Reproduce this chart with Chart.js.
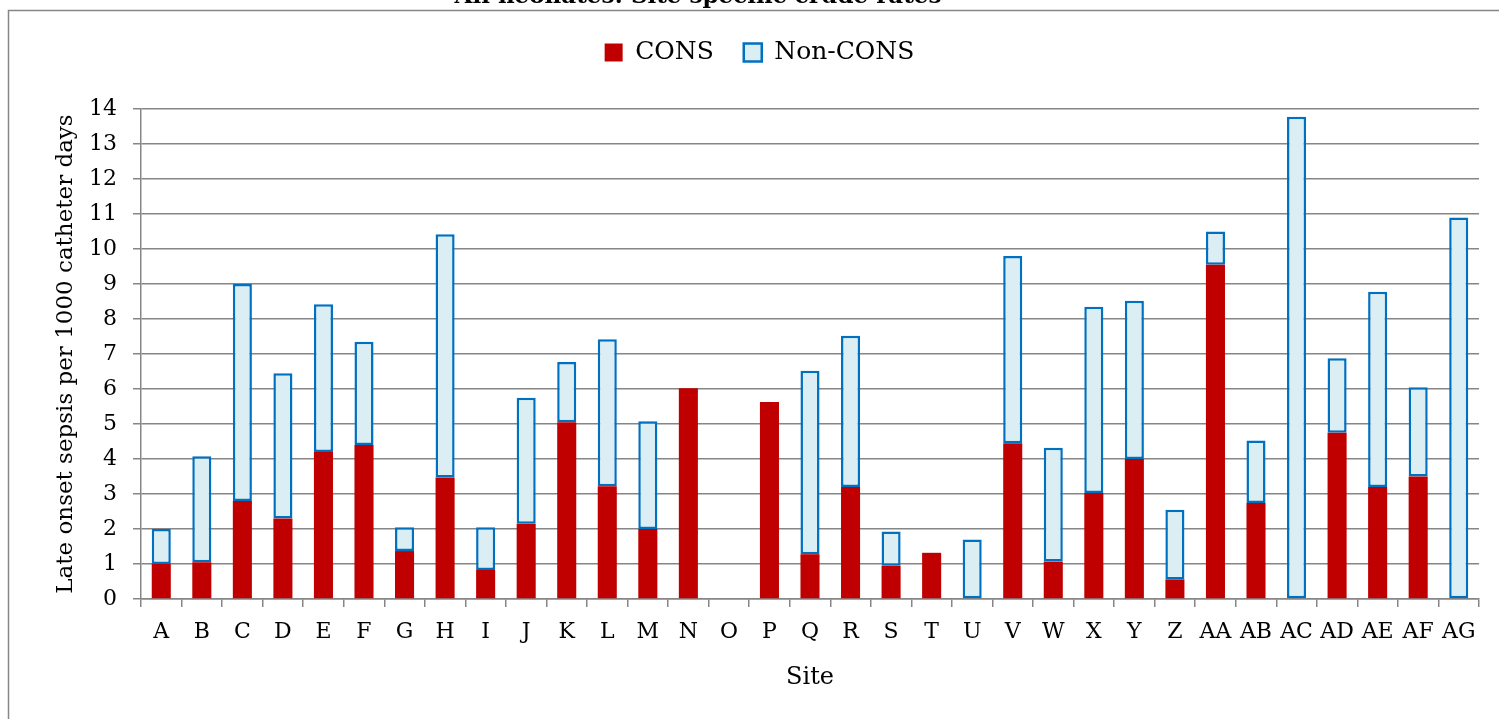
<!DOCTYPE html>
<html>
<head>
<meta charset="utf-8">
<script src="https://cdn.jsdelivr.net/npm/chart.js@4/dist/chart.umd.min.js"></script>
<style>
  html, body { margin: 0; padding: 0; background: #ffffff; }
  #wrap { width: 1499px; height: 719px; }
</style>
</head>
<body>
<div id="wrap"><canvas id="c" width="1499" height="719"></canvas></div>
<script>
const chartTitle = 'All neonates: Site specific crude rates';
const sites = ['A','B','C','D','E','F','G','H','I','J','K','L','M','N','O','P','Q','R','S','T','U','V','W','X','Y','Z','AA','AB','AC','AD','AE','AF','AG'];
const consValues    = [1.0, 1.05, 2.8, 2.3, 4.2, 4.4, 1.37, 3.47, 0.83, 2.15, 5.05, 3.22, 2.0, 6.02, 0, 5.63, 1.28, 3.2, 0.95, 1.32, 0, 4.45, 1.07, 3.03, 4.0, 0.56, 9.55, 2.74, 0, 4.75, 3.2, 3.5, 0];
const nonConsValues = [1.0, 3.03, 6.2, 4.15, 4.22, 2.95, 0.68, 6.95, 1.22, 3.6, 1.72, 4.2, 3.08, 0, 0, 0, 5.24, 4.32, 0.98, 0, 1.7, 5.35, 3.25, 5.32, 4.52, 1.99, 0.95, 1.79, 13.78, 2.13, 5.58, 2.55, 10.9];
const yTicks = [0,1,2,3,4,5,6,7,8,9,10,11,12,13,14];
const seriesNames = ['CONS', 'Non-CONS'];
const yTitle = 'Late onset sepsis per 1000 catheter days';
const xTitle = 'Site';

Chart.defaults.font.family = "'DejaVu Serif', serif";
Chart.defaults.color = '#000000';

const legendSpacer = {
  id: 'legendSpacer',
  beforeLayout(chart) {
    const lg = chart.legend;
    if (lg && !lg._spaced) {
      const fit = lg.fit;
      lg.fit = function () { fit.call(this); this.height += 34; };
      lg._spaced = true;
    }
  }
};

const frameAndTitle = {
  id: 'frameAndTitle',
  afterDraw(chart) {
    const ctx = chart.ctx;
    ctx.save();
    ctx.strokeStyle = '#868686';
    ctx.lineWidth = 1.5;
    ctx.beginPath();
    ctx.moveTo(8.5, 719);
    ctx.lineTo(8.5, 10.5);
    ctx.lineTo(1499, 10.5);
    ctx.stroke();
    ctx.fillStyle = '#000';
    ctx.font = "bold 23px 'DejaVu Serif', serif";
    ctx.textAlign = 'center';
    ctx.textBaseline = 'alphabetic';
    ctx.fillText(chartTitle, 698, 3);
    ctx.restore();
  }
};

const gridColor = '#868686';

new Chart(document.getElementById('c'), {
  type: 'bar',
  data: {
    labels: sites,
    datasets: [
      {
        label: seriesNames[0],
        data: consValues,
        backgroundColor: '#C00000',
        borderWidth: 0,
        barPercentage: 0.47,
        categoryPercentage: 1.0
      },
      {
        label: seriesNames[1],
        data: nonConsValues,
        backgroundColor: '#DAEEF3',
        borderColor: '#0070C0',
        borderWidth: 2.5,
        borderSkipped: false,
        barPercentage: 0.47,
        categoryPercentage: 1.0
      }
    ]
  },
  options: {
    responsive: false,
    animation: false,
    layout: { padding: { left: 40, right: 20, top: 10, bottom: 0 } },
    plugins: {
      legend: {
        display: true,
        position: 'top',
        labels: {
          font: { size: 25 },
          color: '#000',
          boxWidth: 18,
          boxHeight: 18,
          padding: 30
        }
      },
      title: { display: false },
      tooltip: { enabled: false }
    },
    scales: {
      x: {
        stacked: true,
        ticks: { font: { size: 22 }, color: '#000', padding: 12, maxRotation: 0, autoSkip: false },
        grid: { drawOnChartArea: false, color: gridColor, lineWidth: 1.5, tickLength: 8 },
        border: { color: gridColor, width: 1.5 },
        title: { display: true, text: xTitle, font: { size: 24 }, color: '#000', padding: { top: 0, bottom: 27 } },
        afterFit(s) { s.height = 120; }
      },
      y: {
        stacked: true,
        min: yTicks[0],
        max: yTicks[yTicks.length - 1],
        afterBuildTicks(s) { s.ticks = yTicks.map(v => ({ value: v })); },
        ticks: { font: { size: 22 }, color: '#000', padding: 16 },
        grid: { color: gridColor, lineWidth: 1.5, tickLength: 8 },
        border: { color: gridColor, width: 1.5 },
        title: { display: true, text: yTitle, font: { size: 23 }, color: '#000', padding: { top: 12, bottom: 0 } },
        afterFit(s) { s.width = 101; }
      }
    }
  },
  plugins: [legendSpacer, frameAndTitle]
});
</script>
</body>
</html>
